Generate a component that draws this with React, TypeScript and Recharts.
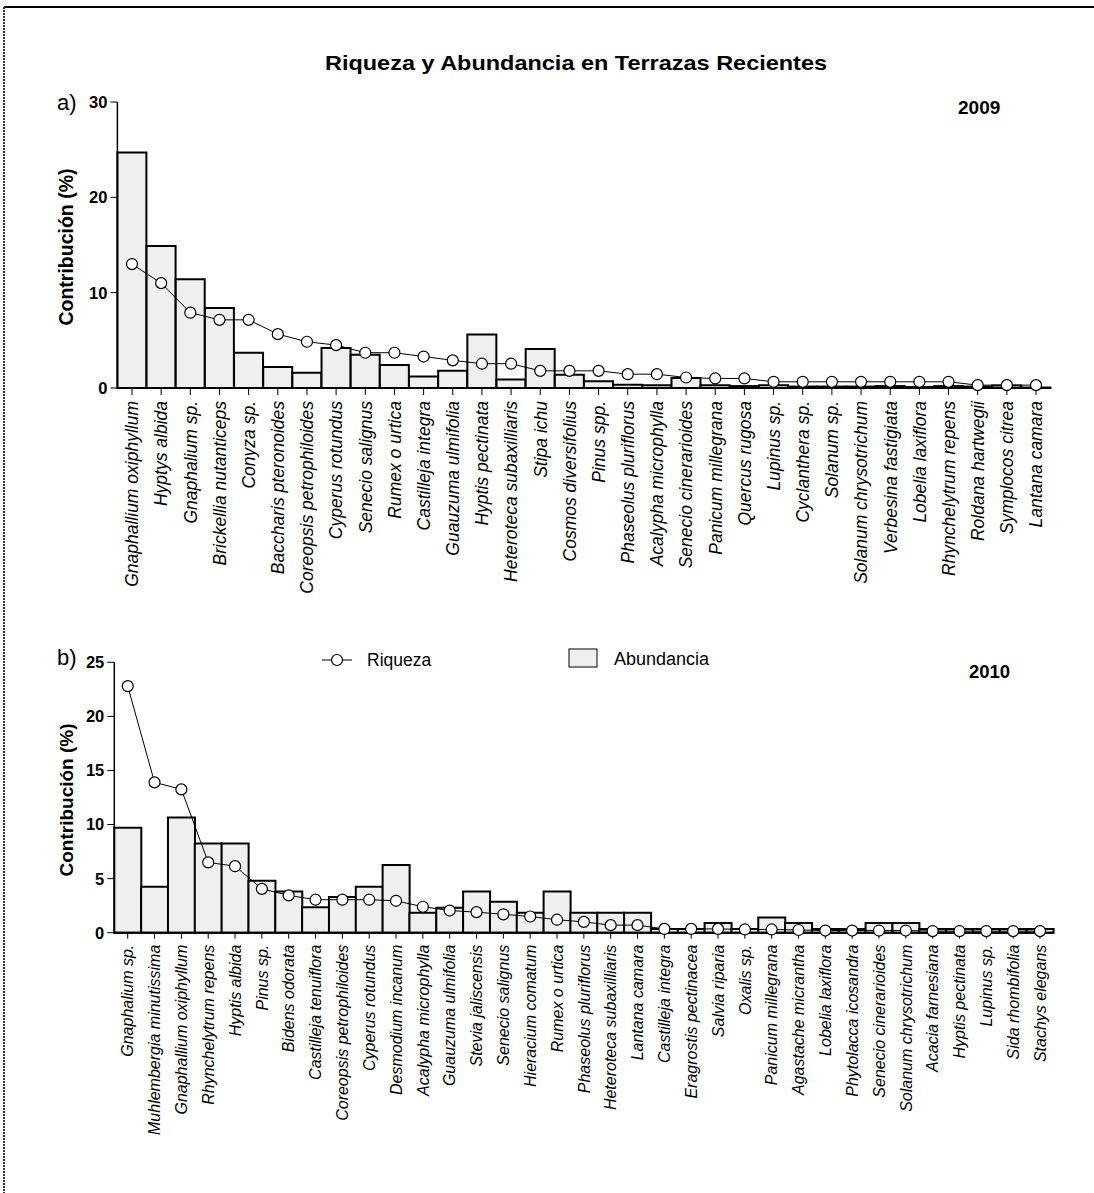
import React from 'react';
import { ComposedChart, Bar, Line, XAxis, YAxis } from 'recharts';

const FONT = "Arial, 'Liberation Sans', Helvetica, sans-serif";

const species2009 = [
  'Gnaphallium oxiphyllum', 'Hyptys albida', 'Gnaphalium sp.', 'Brickellia nutanticeps', 'Conyza sp.',
  'Baccharis pteronoides', 'Coreopsis petrophiloides', 'Cyperus rotundus', 'Senecio salignus', 'Rumex o urtica',
  'Castilleja integra', 'Guauzuma ulmifolia', 'Hyptis pectinata', 'Heteroteca subaxilliaris', 'Stipa ichu',
  'Cosmos diversifolius', 'Pinus spp.', 'Phaseolus pluriflorus', 'Acalypha microphylla', 'Senecio cinerarioides',
  'Panicum millegrana', 'Quercus rugosa', 'Lupinus sp.', 'Cyclanthera sp.', 'Solanum sp.',
  'Solanum chrysotrichum', 'Verbesina fastigiata', 'Lobelia laxiflora', 'Rhynchelytrum repens', 'Roldana hartwegii',
  'Symplocos citrea', 'Lantana camara',
];
const abundancia2009 = [
  24.7, 14.9, 11.4, 8.4, 3.7, 2.2, 1.6, 4.2, 3.5, 2.4,
  1.2, 1.8, 5.6, 0.9, 4.1, 1.4, 0.7, 0.35, 0.3, 1.05,
  0.3, 0.2, 0.3, 0.15, 0.15, 0.15, 0.2, 0.1, 0.2, 0.15,
  0.25, 0.05,
];
const riqueza2009 = [
  13.0, 11.0, 7.9, 7.15, 7.15, 5.65, 4.85, 4.5, 3.7, 3.7,
  3.3, 2.9, 2.55, 2.55, 1.8, 1.8, 1.8, 1.45, 1.45, 1.1,
  1.0, 1.0, 0.65, 0.65, 0.65, 0.65, 0.65, 0.65, 0.65, 0.3,
  0.3, 0.3,
];
const yTicks2009 = [0, 10, 20, 30];

const species2010 = [
  'Gnaphalium sp.', 'Muhlembergia minutissima', 'Gnaphallium oxiphyllum', 'Rhynchelytrum repens', 'Hyptis albida',
  'Pinus sp.', 'Bidens odorata', 'Castilleja tenuiflora', 'Coreopsis petrophiloides', 'Cyperus rotundus',
  'Desmodium incanum', 'Acalypha microphylla', 'Guauzuma ulmifolia', 'Stevia jaliscensis', 'Senecio salignus',
  'Hieracium comatum', 'Rumex o urtica', 'Phaseolus pluriflorus', 'Heteroteca subaxilliaris', 'Lantana camara',
  'Castilleja integra', 'Eragrostis pectinacea', 'Salvia riparia', 'Oxalis sp.', 'Panicum millegrana',
  'Agastache micrantha', 'Lobelia laxiflora', 'Phytolacca icosandra', 'Senecio cinerarioides', 'Solanum chrysotrichum',
  'Acacia farnesiana', 'Hyptis pectinata', 'Lupinus sp.', 'Sida rhombifolia', 'Stachys elegans',
];
const abundancia2010 = [
  9.7, 4.25, 10.65, 8.25, 8.25, 4.8, 3.8, 2.35, 3.3, 4.25,
  6.25, 1.85, 2.3, 3.8, 2.85, 1.85, 3.8, 1.85, 1.85, 1.85,
  0.35, 0.35, 0.9, 0.35, 1.4, 0.9, 0.35, 0.35, 0.9, 0.9,
  0.35, 0.35, 0.35, 0.35, 0.35,
];
const riqueza2010 = [
  22.8, 13.9, 13.25, 6.5, 6.15, 4.05, 3.45, 3.05, 3.05, 3.05,
  2.95, 2.4, 2.05, 1.9, 1.7, 1.5, 1.2, 1.0, 0.7, 0.7,
  0.35, 0.35, 0.35, 0.3, 0.3, 0.25, 0.2, 0.2, 0.2, 0.2,
  0.15, 0.15, 0.15, 0.15, 0.15,
];
const yTicks2010 = [0, 5, 10, 15, 20, 25];

const build = (names: string[], ab: number[], ri: number[]) =>
  names.map((n, i) => ({ name: n, abundancia: ab[i], riqueza: ri[i] }));

const data2009 = build(species2009, abundancia2009, riqueza2009);
const data2010 = build(species2010, abundancia2010, riqueza2010);

const XTick = (props: any) => {
  const { x, y, payload, fs } = props;
  return (
    <g transform={`translate(${x},${y})`}>
      <text
        transform="rotate(-90)"
        x={0}
        y={0}
        dy="0.36em"
        textAnchor="end"
        fontStyle="italic"
        fontSize={fs}
        fontFamily={FONT}
        fill="#000"
      >
        {payload.value}
      </text>
    </g>
  );
};

const YTick = (props: any) => {
  const { x, y, payload } = props;
  return (
    <text x={x} y={y} dy="0.36em" textAnchor="end" fontWeight="bold" fontSize={16.5} fontFamily={FONT} fill="#000">
      {payload.value}
    </text>
  );
};

const BAR_FILL = '#efefef';

const Panel = (props: any) => {
  const { data, ticks, domain, width, height, margin, xAxisHeight, tickSize, fs } = props;
  return (
    <ComposedChart width={width} height={height} data={data} margin={margin} barCategoryGap={0} barGap={0}>
      <XAxis
        dataKey="name"
        interval={0}
        height={xAxisHeight}
        tickSize={tickSize}
        tickMargin={6}
        axisLine={{ stroke: '#000', strokeWidth: 2 }}
        tickLine={{ stroke: '#000', strokeWidth: 1 }}
        tick={(p: any) => <XTick {...p} fs={fs} />}
      />
      <YAxis
        width={60}
        domain={domain}
        ticks={ticks}
        interval={0}
        tickSize={7}
        tickMargin={3}
        axisLine={{ stroke: '#000', strokeWidth: 1.5 }}
        tickLine={{ stroke: '#000', strokeWidth: 1 }}
        tick={(p: any) => <YTick {...p} />}
      />
      <Bar dataKey="abundancia" fill={BAR_FILL} stroke="#000" strokeWidth={2} isAnimationActive={false} />
      <Line
        type="linear"
        dataKey="riqueza"
        stroke="#000"
        strokeWidth={1}
        dot={{ r: 5.5, fill: '#fff', stroke: '#000', strokeWidth: 1.2 }}
        activeDot={false}
        isAnimationActive={false}
      />
    </ComposedChart>
  );
};

export default function App() {
  return (
    <div style={{ position: 'absolute', left: 0, top: 0, width: 1094, height: 1193, background: '#fff', fontFamily: FONT }}>
      <svg width={1094} height={1193} style={{ position: 'absolute', left: 0, top: 0 }}>
        <line x1={4} y1={7} x2={1094} y2={7} stroke="#000" strokeWidth={2} />
        <line x1={4} y1={7} x2={4} y2={1193} stroke="#333" strokeWidth={2} strokeDasharray="2 1" />
        <text x={576} y={70} textAnchor="middle" fontWeight="bold" fontSize={20.5} textLength={502} lengthAdjust="spacingAndGlyphs" fill="#000">
          Riqueza y Abundancia en Terrazas Recientes
        </text>
        <text x={57} y={110} fontSize={22} fill="#000">a)</text>
        <text x={57} y={665} fontSize={22} fill="#000">b)</text>
        <text x={958} y={114} fontWeight="bold" fontSize={19} fill="#000">2009</text>
        <text x={969} y={678} fontWeight="bold" fontSize={18.5} fill="#000">2010</text>
        <text transform="translate(73,247) rotate(-90)" textAnchor="middle" fontWeight="bold" fontSize={19.5} fill="#000">
          Contribución (%)
        </text>
        <text transform="translate(73,800) rotate(-90)" textAnchor="middle" fontWeight="bold" fontSize={19} fill="#000">
          Contribución (%)
        </text>
        <line x1={322} y1={660} x2={352} y2={660} stroke="#000" strokeWidth={1} />
        <circle cx={337} cy={660} r={5.5} fill="#fff" stroke="#000" strokeWidth={1.2} />
        <text x={367} y={666} fontSize={17.5} fill="#000">Riqueza</text>
        <rect x={569} y={649} width={28} height={18} fill={BAR_FILL} stroke="#000" strokeWidth={1} />
        <text x={614} y={665} fontSize={18} fill="#000">Abundancia</text>
      </svg>
      <div style={{ position: 'absolute', left: 0, top: 0 }}>
        <Panel
          data={data2009}
          ticks={yTicks2009}
          domain={[0, 30]}
          width={1094}
          height={620}
          margin={{ top: 102, right: 43.4, left: 57.4, bottom: 0 }}
          xAxisHeight={232}
          tickSize={7}
          fs={17.5}
        />
      </div>
      <div style={{ position: 'absolute', left: 0, top: 620 }}>
        <Panel
          data={data2010}
          ticks={yTicks2010}
          domain={[0, 25]}
          width={1094}
          height={573}
          margin={{ top: 42.3, right: 40.6, left: 54.3, bottom: 0 }}
          xAxisHeight={260.3}
          tickSize={6}
          fs={16}
        />
      </div>
    </div>
  );
}
